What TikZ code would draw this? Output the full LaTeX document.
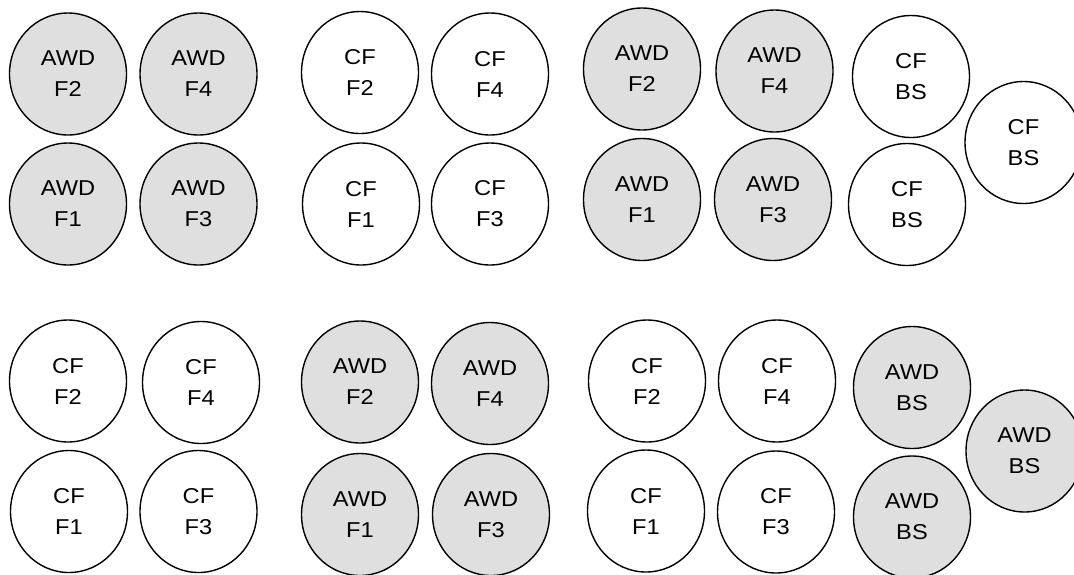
\documentclass[tikz,border=0pt]{standalone}
\usepackage{fontspec}
\setmainfont[FakeStretch=1.1]{Liberation Sans}
\usetikzlibrary{shapes.geometric}
\definecolor{cellgray}{RGB}{223,223,223}
\tikzset{
  cell/.style={ellipse, draw=black, line width=1.4pt, minimum width=117pt, minimum height=122pt, inner sep=0pt,
    align=center, font=\fontsize{21.5}{31}\selectfont},
  awd/.style={cell, fill=cellgray},
  cf/.style={cell, fill=white}
}
\begin{document}
\begin{tikzpicture}[x=1pt,y=-1pt]
\useasboundingbox[fill=white] (0,0) rectangle (1074,574);
% top-left group
\node[awd] (a2) at (68,74) {AWD\\F2};
\node[awd] (a4) at (198.5,74) {AWD\\F4};
\node[awd] (a1) at (68,204) {AWD\\F1};
\node[awd] (a3) at (198.5,204) {AWD\\F3};
% top-middle group
\node[cf] (b2) at (360,72.5) {CF\\F2};
\node[cf] (b4) at (490,74) {CF\\F4};
\node[cf] (b1) at (361,204) {CF\\F1};
\node[cf] (b3) at (490,204) {CF\\F3};
% top-right group
\node[awd] (c2) at (642,69) {AWD\\F2};
\node[awd] (c4) at (774.5,71) {AWD\\F4};
\node[awd] (c1) at (642,199.5) {AWD\\F1};
\node[awd] (c3) at (773,199.5) {AWD\\F3};
\node[cf] (cb1) at (911,76.5) {CF\\BS};
\node[cf] (cb2) at (1023.5,142.5) {CF\\BS};
\node[cf] (cb3) at (907,204.5) {CF\\BS};
% bottom-left group
\node[cf] (d2) at (68,381) {CF\\F2};
\node[cf] (d4) at (201,382.5) {CF\\F4};
\node[cf] (d1) at (69,511.5) {CF\\F1};
\node[cf] (d3) at (198.5,511.5) {CF\\F3};
% bottom-middle group
\node[awd] (e2) at (360,382) {AWD\\F2};
\node[awd] (e4) at (490,383.5) {AWD\\F4};
\node[awd] (e1) at (360,514.5) {AWD\\F1};
\node[awd] (e3) at (491,514.5) {AWD\\F3};
% bottom-right group
\node[cf] (f2) at (647,381) {CF\\F2};
\node[cf] (f4) at (777,381) {CF\\F4};
\node[cf] (f1) at (646,511) {CF\\F1};
\node[cf] (f3) at (776,512) {CF\\F3};
\node[awd] (fb1) at (912,387.5) {AWD\\BS};
\node[awd] (fb2) at (1024.5,451) {AWD\\BS};
\node[awd] (fb3) at (912,517) {AWD\\BS};
\end{tikzpicture}
\end{document}
